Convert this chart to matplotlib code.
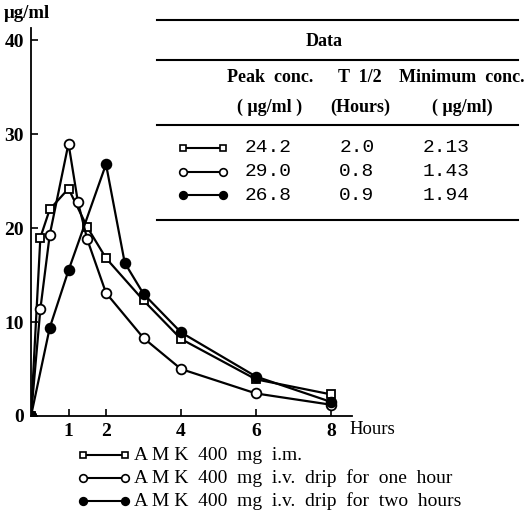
import matplotlib
matplotlib.use("Agg")
import matplotlib.pyplot as plt
from matplotlib.lines import Line2D

# time (hours) and serum conc (ug/ml)
t_im = [0, 0.25, 0.5, 1, 1.5, 2, 3, 4, 6, 8]
c_im = [0, 19.0, 22.0, 24.2, 20.1, 16.8, 12.3, 8.2, 3.9, 2.3]

t_iv1 = [0, 0.25, 0.5, 1, 1.25, 1.5, 2, 3, 4, 6, 8]
c_iv1 = [0, 11.4, 19.3, 29.0, 22.8, 18.8, 13.1, 8.3, 5.0, 2.4, 1.2]

t_iv2 = [0, 0.5, 1, 2, 2.5, 3, 4, 6, 8]
c_iv2 = [0, 9.4, 15.5, 26.8, 16.3, 13.0, 8.9, 4.2, 1.5]

labels = ["A M K  400  mg  i.m.",
          "A M K  400  mg  i.v.  drip  for  one  hour",
          "A M K  400  mg  i.v.  drip  for  two  hours"]
peak = ["24.2", "29.0", "26.8"]
thalf = ["2.0", "0.8", "0.9"]
cmin = ["2.13", "1.43", "1.94"]

W, H = 527, 517
serif = "Liberation Serif"
mono = "Liberation Mono"

def px(x, y):  # pixel -> figure fraction
    return x / W, 1 - y / H

fig = plt.figure(figsize=(W / 100, H / 100), dpi=100)
ax = fig.add_axes([31 / W, (H - 416) / H, 321 / W, 388 / H])

styles = [dict(marker="s", mfc="white", ms=6),
          dict(marker="o", mfc="white", ms=7),
          dict(marker="o", mfc="black", ms=7)]
for (t, c), st in zip([(t_im, c_im), (t_iv1, c_iv1), (t_iv2, c_iv2)], styles):
    ax.plot(t, c, color="black", lw=1.6, mec="black", mew=1.3, **st)

ax.set_xlim(0, 8.56)
ax.set_ylim(0, 41.3)
ax.set_xticks([1, 2, 4, 6, 8])
ax.set_yticks([0, 10, 20, 30, 40])
ax.spines["top"].set_visible(False)
ax.spines["right"].set_visible(False)
ax.spines["left"].set_linewidth(1.3)
ax.spines["bottom"].set_linewidth(1.3)
ax.tick_params(direction="in", length=5, width=1.2, labelsize=14, pad=5)
for lab in ax.get_xticklabels() + ax.get_yticklabels():
    lab.set_fontfamily(serif)
    lab.set_fontweight("bold")

fig.text(*px(4, 13), "\u03bcg/ml", ha="left", va="center", fontsize=13.5,
         family=serif, weight="bold")
fig.text(*px(349, 430), "Hours", ha="left", va="center", fontsize=13.5,
         family=serif)

# data table
for yy in [20, 60, 125, 220]:
    x0, y0 = px(157, yy)
    x1, _ = px(518, yy)
    fig.add_artist(Line2D([x0, x1], [y0, y0], color="black", lw=1.5,
                          transform=fig.transFigure))
fig.text(*px(324, 42), "Data", ha="center", va="center", fontsize=13,
         family=serif, weight="bold")
hdr = [(270, "Peak  conc.", "( \u03bcg/ml )"),
       (360, "T  1/2", "(Hours)"),
       (462, "Minimum  conc.", "( \u03bcg/ml)")]
for x, a, b in hdr:
    fig.text(*px(x, 77), a, ha="center", va="center", fontsize=13,
             family=serif, weight="bold")
    fig.text(*px(x, 107), b, ha="center", va="center", fontsize=13,
             family=serif, weight="bold")

rows_y = [148, 172, 195]
for i, y in enumerate(rows_y):
    x0, yy = px(183, y)
    x1, _ = px(223, y)
    fig.add_artist(Line2D([x0, x1], [yy, yy], color="black", lw=1.5,
                          markevery=[0, 1], mec="black", mew=1.2,
                          transform=fig.transFigure,
                          **{k: (v - 1.5 if k == "ms" else v) for k, v in styles[i].items()}))
    fig.text(*px(268, y), peak[i], ha="center", va="center", fontsize=14, family=mono)
    fig.text(*px(357, y), thalf[i], ha="center", va="center", fontsize=14, family=mono)
    fig.text(*px(446, y), cmin[i], ha="center", va="center", fontsize=14, family=mono)

# legend below the axis
leg_y = [455, 478, 501]
for i, y in enumerate(leg_y):
    x0, yy = px(83, y)
    x1, _ = px(125, y)
    fig.add_artist(Line2D([x0, x1], [yy, yy], color="black", lw=1.5,
                          markevery=[0, 1], mec="black", mew=1.2,
                          transform=fig.transFigure,
                          **{k: (v - 1.5 if k == "ms" else v) for k, v in styles[i].items()}))
    fig.text(*px(134, y), labels[i], ha="left", va="center", fontsize=14,
             family=serif)

fig.savefig("out.png", dpi=100)
